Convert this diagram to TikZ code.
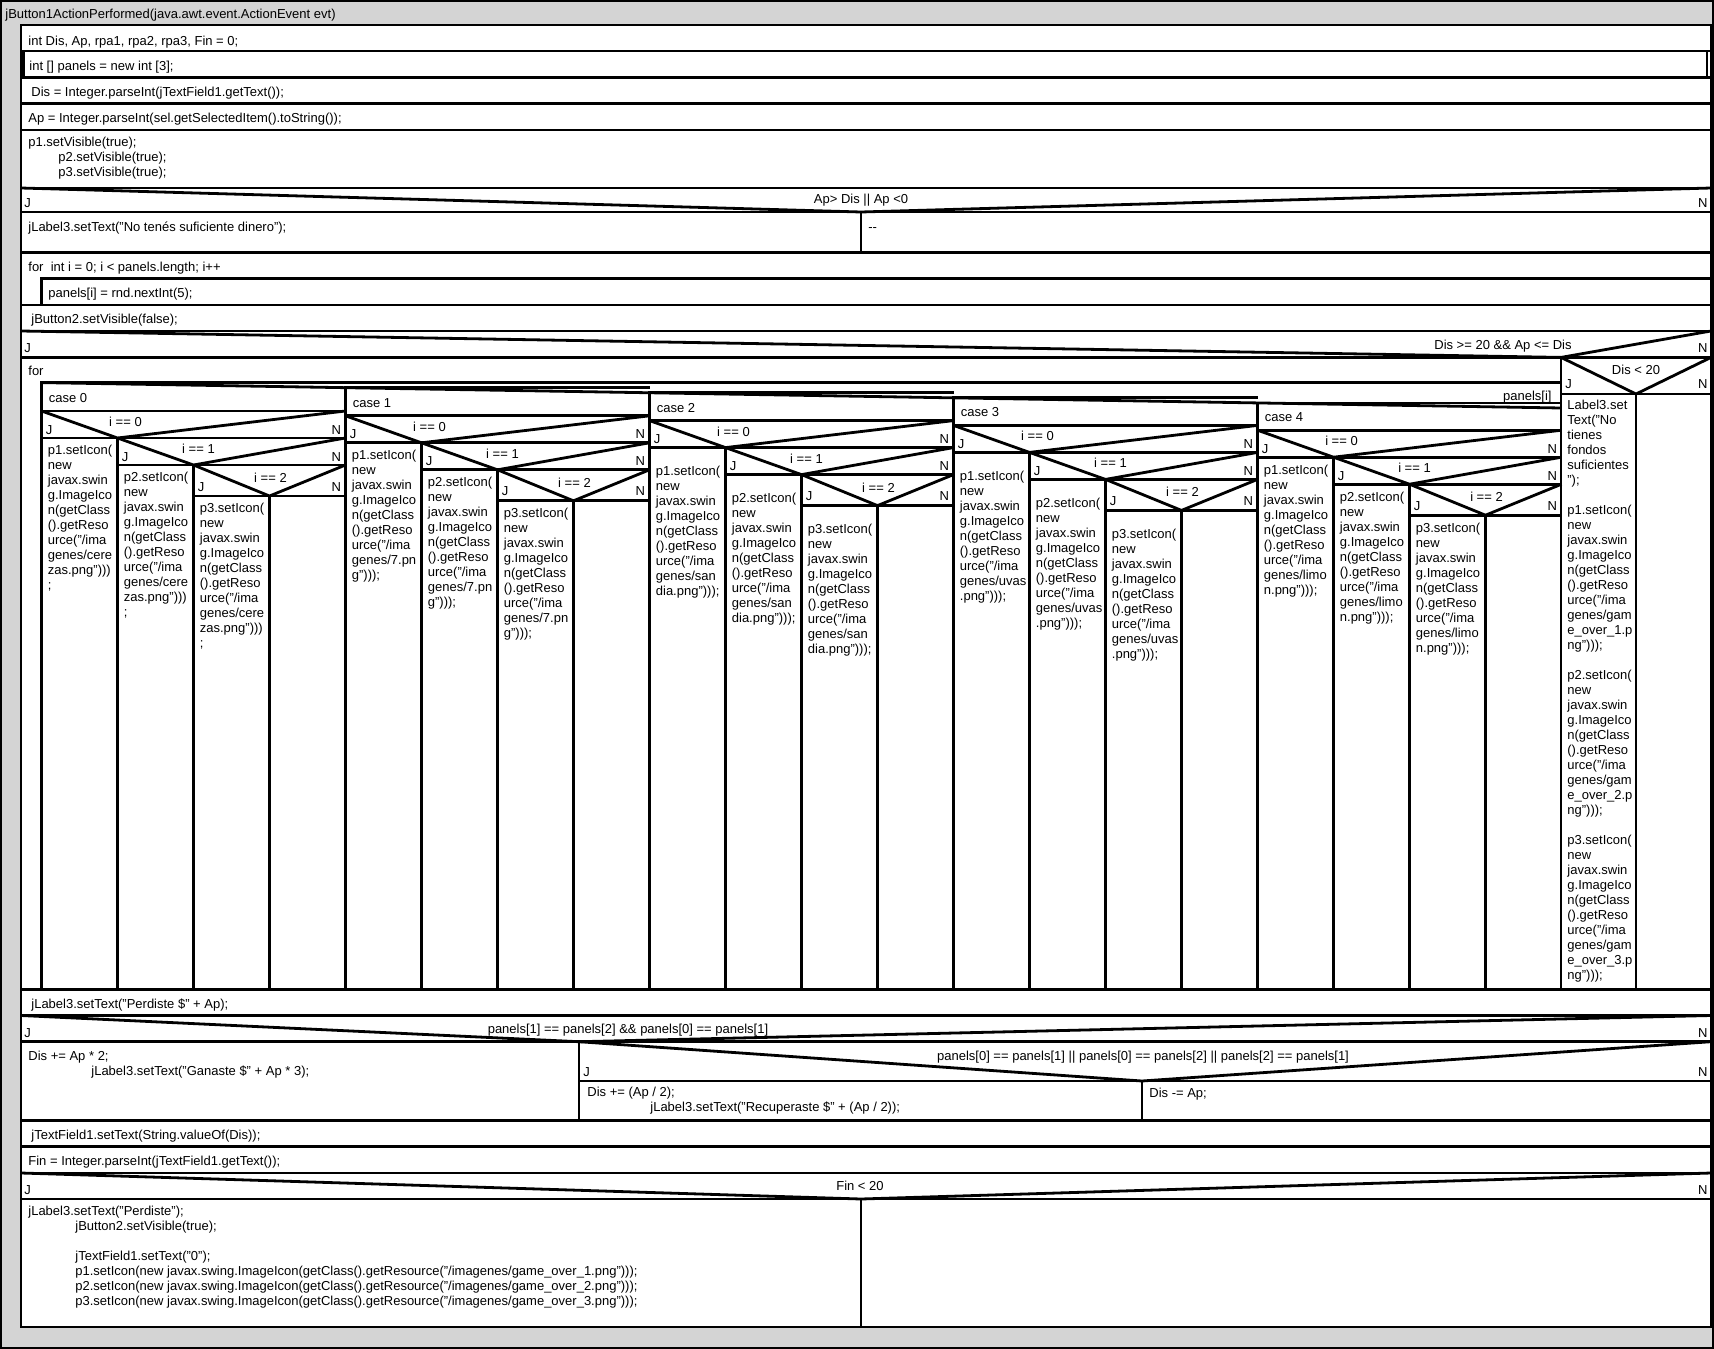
\documentclass[tikz,border=0pt]{standalone}
\usepackage{fontspec}
\setmainfont{Liberation Sans}
\usetikzlibrary{positioning}
\definecolor{framegray}{RGB}{212,212,212}
\newcommand{\nsfont}{\fontsize{13}{15}\selectfont}

\begin{document}
\begin{tikzpicture}[
    x=1pt, y=-1pt,
    line width=2.8pt,
    code/.style={anchor=north west, yshift=11pt, inner sep=0pt, align=left, font=\nsfont,
        execute at begin node={\rule{0pt}{11pt}}},
    cond/.style={anchor=base, inner sep=0pt, font=\nsfont},
    yes/.style={anchor=base west, inner sep=0pt, font=\nsfont},
    no/.style={anchor=base east, inner sep=0pt, font=\nsfont}
]
\useasboundingbox (0,0) rectangle (1714,1349);

% frame and main block
\draw[line width=2pt, fill=framegray] (1,1) rectangle (1713,1348);
\draw[fill=white] (21,25) rectangle (1711,1327);
\node[code] (title) at (4,17.5) {jButton1ActionPerformed(java.awt.event.ActionEvent evt)};

% separators
\foreach \y in {51,77.6,103.8,130,188,212,252.5,305,331,357.4,989.3,1015.5,1041.7,1120.4,1146.7,1173,1199}
    \draw (21,\y) -- (1711,\y);
\draw (23.5,51) rectangle (1707,77.6);
\draw (41.5,305) -- (41.5,278.7) -- (1711,278.7);
\draw (41.5,989.3) -- (41.5,382.6) -- (1561,382.6);
\draw (861,212) -- (861,252.5);
\draw (1561,357.4) -- (1561,989.3);
\draw (1561,394) -- (1711,394);
\draw (1636,394) -- (1636,989.3);
\draw (579,1041.7) -- (579,1120.4);
\draw (579,1081) -- (1711,1081);
\draw (1142,1081) -- (1142,1120.4);
\draw (861,1199) -- (861,1327);

% decision headers
\draw (21,188) -- (861,212) -- (1711,188);
\draw (21,331) -- (1561,357.4) -- (1711,331);
\draw (1561,357.4) -- (1636,394) -- (1711,357.4);
\draw (21,1015.5) -- (579,1041.7) -- (1711,1015.5);
\draw (579,1041.7) -- (1142,1081) -- (1711,1041.7);
\draw (21,1173) -- (861,1199) -- (1711,1173);

% sequence texts
\node[code] (decl) at (27,44) {int Dis, Ap, rpa1, rpa2, rpa3, Fin = 0;};
\node[code] (arr) at (28,69) {int [] panels = new int [3];};
\node[code] (readdis) at (30,95) {Dis = Integer.parseInt(jTextField1.getText());};
\node[code] (readap) at (27,121.5) {Ap = Integer.parseInt(sel.getSelectedItem().toString());};
\node[code] (show) at (27,146.5) {p1.setVisible(true);\\\hspace*{30pt}p2.setVisible(true);\\\hspace*{30pt}p3.setVisible(true);};

\node[cond] (ifmoney) at (861,203.5) {Ap> Dis || Ap <0};
\node[yes] (jmoney) at (23,207) {J};
\node[no] (nmoney) at (1709,207) {N};
\node[code] (nomoney) at (27,230) {jLabel3.setText("No tenés suficiente dinero");};
\node[code] (empty) at (867,230) {-{}-};

\node[code] (forfill) at (27,270) {for\ \ int i = 0; i < panels.length; i++};
\node[code] (fill) at (47,296.5) {panels[i] = rnd.nextInt(5);};
\node[code] (hide) at (30,322.5) {jButton2.setVisible(false);};

\node[cond] (ifplay) at (1503,349) {Dis >= 20 \&\& Ap <= Dis};
\node[yes] (jplay) at (23,352) {J};
\node[no] (nplay) at (1709,352) {N};
\node[code] (forpanels) at (27,374) {for};

\node[cond] (iflow) at (1636,374) {Dis < 20};
\node[yes] (jlow) at (1564,388) {J};
\node[no] (nlow) at (1709,388) {N};
\node[code] (nofunds) at (1566,410) {Label3.set\\Text("No\\tienes\\fondos\\suficientes\\");\\[15pt]p1.setIcon(\\new\\javax.swin\\g.ImageIco\\n(getClass\\().getReso\\urce("/ima\\genes/gam\\e\_over\_1.p\\ng")));\\[15pt]p2.setIcon(\\new\\javax.swin\\g.ImageIco\\n(getClass\\().getReso\\urce("/ima\\genes/gam\\e\_over\_2.p\\ng")));\\[15pt]p3.setIcon(\\new\\javax.swin\\g.ImageIco\\n(getClass\\().getReso\\urce("/ima\\genes/gam\\e\_over\_3.p\\ng")));};

% switch panels[i]
\draw (41.5,382.6) -- (1561,408);
\node[no] (sel) at (1553,400) {panels[i]};
\foreach \k/\tail/\dy in {0/{genes/cere\\zas.png")))\\;}/0, 1/{genes/7.pn\\g")));}/0, 2/{genes/san\\dia.png")));}/11, 3/{genes/uvas\\.png")));}/11, 4/{genes/limo\\n.png")));}/0}{
    \pgfmathsetmacro\ca{41.5+304*\k}
    \pgfmathsetmacro\cb{\ca+76}
    \pgfmathsetmacro\cc{\ca+152}
    \pgfmathsetmacro\cd{\ca+228}
    \pgfmathsetmacro\ce{\ca+304}
    \pgfmathsetmacro\ctop{382.6+5.08*\k}
    \pgfmathsetmacro\hc{411+4.8*\k}
    \pgfmathsetmacro\ha{\hc+27}
    \pgfmathsetmacro\hb{\ha+27}
    \pgfmathsetmacro\hd{\hb+31}
    \draw (\ca,989.3) -- (\ca,\ctop) -- (\ce,\ctop);
    \draw (\ca,\hc) -- (\ce,\hc);
    \draw (\ca,\hc) -- (\cb,\ha) -- (\ce,\hc);
    \draw (\ca,\ha) -- (\ce,\ha);
    \draw (\cb,\ha) -- (\cc,\hb) -- (\ce,\ha);
    \draw (\cb,\hb) -- (\ce,\hb);
    \draw (\cc,\hb) -- (\cd,\hd) -- (\ce,\hb);
    \draw (\cc,\hd) -- (\ce,\hd);
    \draw (\cb,\ha) -- (\cb,989.3);
    \draw (\cc,\hb) -- (\cc,989.3);
    \draw (\cd,\hd) -- (\cd,989.3);
    \node[code] (case\k) at (\ca+6,\hc-10) {case \k};
    \node[cond] (ifa\k) at (\cb+8,\hc+15.5) {i == 0};
    \node[yes] (ja\k) at (\ca+3,\ha-4) {J};
    \node[no] (na\k) at (\ce-3,\ha-4) {N};
    \node[cond] (ifb\k) at (\cc+5,\ha+15.5) {i == 1};
    \node[yes] (jb\k) at (\cb+3,\hb-4) {J};
    \node[no] (nb\k) at (\ce-3,\hb-4) {N};
    \node[cond] (ifc\k) at (\cd+1,\hb+17.5) {i == 2};
    \node[yes] (jc\k) at (\cc+3,\hd-5) {J};
    \node[no] (nc\k) at (\ce-3,\hd-5) {N};
    \node[code] (pa\k) at (\ca+5,\ha+17+\dy) {p1.setIcon(\\new\\javax.swin\\g.ImageIco\\n(getClass\\().getReso\\urce("/ima\\\tail};
    \node[code] (pb\k) at (\cb+5,\hb+17+\dy) {p2.setIcon(\\new\\javax.swin\\g.ImageIco\\n(getClass\\().getReso\\urce("/ima\\\tail};
    \node[code] (pc\k) at (\cc+5,\hd+17+\dy) {p3.setIcon(\\new\\javax.swin\\g.ImageIco\\n(getClass\\().getReso\\urce("/ima\\\tail};
}

% result
\node[code] (lost) at (30,1007) {jLabel3.setText("Perdiste \$" + Ap);};
\node[cond] (ifthree) at (628,1033) {panels[1] == panels[2] \&\& panels[0] == panels[1]};
\node[yes] (jthree) at (23,1037.5) {J};
\node[no] (nthree) at (1709,1037.5) {N};
\node[code] (won) at (27,1060.5) {Dis += Ap * 2;\\\hspace*{63pt}jLabel3.setText("Ganaste \$" + Ap * 3);};
\node[cond] (iftwo) at (1143,1060.5) {panels[0] == panels[1] || panels[0] == panels[2] || panels[2] == panels[1]};
\node[yes] (jtwo) at (582,1076) {J};
\node[no] (ntwo) at (1709,1076) {N};
\node[code] (back) at (586,1096.5) {Dis += (Ap / 2);\\\hspace*{63pt}jLabel3.setText("Recuperaste \$" + (Ap / 2));};
\node[code] (pay) at (1148,1096.5) {Dis -= Ap;};
\node[code] (update) at (30,1138) {jTextField1.setText(String.valueOf(Dis));};
\node[code] (readfin) at (27,1164) {Fin = Integer.parseInt(jTextField1.getText());};

\node[cond] (iffin) at (860,1190.5) {Fin < 20};
\node[yes] (jfin) at (23,1194) {J};
\node[no] (nfin) at (1709,1194) {N};
\node[code] (over) at (27,1216) {jLabel3.setText("Perdiste");\\\hspace*{47pt}jButton2.setVisible(true);\\[15pt]\hspace*{47pt}jTextField1.setText("0");\\\hspace*{47pt}p1.setIcon(new javax.swing.ImageIcon(getClass().getResource("/imagenes/game\_over\_1.png")));\\\hspace*{47pt}p2.setIcon(new javax.swing.ImageIcon(getClass().getResource("/imagenes/game\_over\_2.png")));\\\hspace*{47pt}p3.setIcon(new javax.swing.ImageIcon(getClass().getResource("/imagenes/game\_over\_3.png")));};

\end{tikzpicture}
\end{document}
